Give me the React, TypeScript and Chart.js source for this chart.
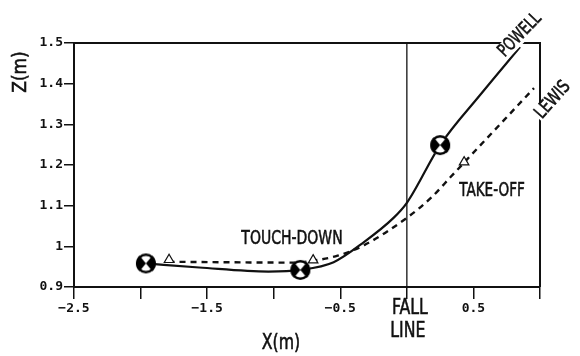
import React, { useEffect, useRef } from "react";
import { Chart, registerables } from "chart.js";
Chart.register(...registerables);

// Powell CG path (solid)
const powellX = [-1.96, -1.56, -1.04, -0.8, -0.55, -0.32, -0.1, 0.0, 0.25, 0.55, 0.85];
const powellZ = [0.958, 0.948, 0.938, 0.942, 0.961, 1.011, 1.07, 1.107, 1.249, 1.372, 1.49];
// Lewis CG path (dashed)
const lewisX = [-1.79, -0.85, -0.72, -0.52, -0.32, 0.0, 0.19, 0.33, 0.955];
const lewisZ = [0.962, 0.96, 0.964, 0.977, 1.003, 1.07, 1.122, 1.171, 1.389];
// event markers
const powellCGX = [-1.96, -0.8, 0.25];
const powellCGZ = [0.958, 0.942, 1.249];
const lewisTriX = [-1.786, -0.704, 0.43];
const lewisTriZ = [0.967, 0.966, 1.207];
// axes
const xTicks = [-2.5, -2, -1.5, -1, -0.5, 0, 0.5, 1];
const xTickLabels = ["\u22122.5", "", "\u22121.5", "", "\u22120.5", "", "0.5", ""];
const zTicks = [0.9, 1.0, 1.1, 1.2, 1.3, 1.4, 1.5];
const zTickLabels = ["0.9", "1", "1.1", "1.2", "1.3", "1.4", "1.5"];

const FONT = "'DejaVu Sans', sans-serif";

function makeCG(r: number) {
  const size = 2 * r + 4;
  const c = document.createElement("canvas");
  c.width = size;
  c.height = size;
  const g = c.getContext("2d")!;
  const cx = size / 2, cy = size / 2;
  g.fillStyle = "#fff";
  g.beginPath();
  g.arc(cx, cy, r, 0, Math.PI * 2);
  g.fill();
  g.fillStyle = "#000";
  const w = (100 / 180) * Math.PI / 2;
  g.beginPath();
  g.moveTo(cx, cy);
  g.arc(cx, cy, r, Math.PI - w, Math.PI + w);
  g.closePath();
  g.fill();
  g.beginPath();
  g.moveTo(cx, cy);
  g.arc(cx, cy, r, -w, w);
  g.closePath();
  g.fill();
  g.lineWidth = 2.4;
  g.strokeStyle = "#000";
  g.beginPath();
  g.arc(cx, cy, r - 1.2, 0, Math.PI * 2);
  g.stroke();
  return c;
}

function drawLabel(
  ctx: CanvasRenderingContext2D,
  text: string,
  x: number,
  y: number,
  size: number,
  sx: number,
  rot = 0,
  bg = false
) {
  ctx.save();
  ctx.translate(x, y);
  ctx.rotate(rot);
  ctx.scale(sx, 1);
  ctx.font = `${size}px ${FONT}`;
  ctx.textAlign = "center";
  ctx.textBaseline = "middle";
  if (bg) {
    const w = ctx.measureText(text).width;
    ctx.fillStyle = "#fff";
    ctx.fillRect(-w / 2 - 2, -size * 0.45, w + 4, size * 0.9);
  }
  ctx.fillStyle = "#111";
  ctx.strokeStyle = "#111";
  ctx.lineWidth = 0.6;
  ctx.fillText(text, 0, 0);
  ctx.strokeText(text, 0, 0);
  ctx.restore();
}

const overlay = {
  id: "overlay",
  beforeDatasetsDraw(chart: any) {
    const { ctx, chartArea } = chart;
    const xs = chart.scales.x;
    ctx.save();
    ctx.strokeStyle = "#111";
    ctx.lineWidth = 2;
    ctx.beginPath();
    ctx.moveTo(chartArea.left, chartArea.top);
    ctx.lineTo(chartArea.right, chartArea.top);
    ctx.lineTo(chartArea.right, chartArea.bottom);
    ctx.stroke();
    const fx = xs.getPixelForValue(0);
    ctx.lineWidth = 1.3;
    ctx.beginPath();
    ctx.moveTo(fx, chartArea.top);
    ctx.lineTo(fx, chartArea.bottom);
    ctx.stroke();
    ctx.restore();
  },
  afterDraw(chart: any) {
    const { ctx } = chart;
    const xs = chart.scales.x;
    const fx = xs.getPixelForValue(0);
    drawLabel(ctx, "Z(m)", 21, 72, 20, 0.85, -Math.PI / 2);
    drawLabel(ctx, "X(m)", 281, 344, 21, 0.75);
    drawLabel(ctx, "FALL", fx + 3, 309, 21, 0.75);
    drawLabel(ctx, "LINE", fx + 1, 332, 21, 0.75);
    drawLabel(ctx, "TOUCH-DOWN", 292, 239, 20, 0.7);
    drawLabel(ctx, "TAKE-OFF", 492, 191, 20, 0.68);
    drawLabel(ctx, "POWELL", 520, 35, 18, 0.72, -0.8, true);
    drawLabel(ctx, "LEWIS", 553, 100, 18, 0.78, -0.85, true);
  },
};

export default function App() {
  const ref = useRef<HTMLCanvasElement | null>(null);
  useEffect(() => {
    document.body.style.margin = "0";
    const cg = makeCG(10);
    const tickFont = { family: "'DejaVu Sans Mono', monospace", size: 13, weight: "bold" as const };
    const chart = new Chart(ref.current!, {
      type: "scatter",
      data: {
        datasets: [
          {
            label: "Powell CG",
            data: powellCGX.map((x, i) => ({ x, y: powellCGZ[i] })),
            pointStyle: cg as any,
            pointRadius: 10,
            showLine: false,
            order: 0,
          },
          {
            label: "Lewis events",
            data: lewisTriX.map((x, i) => ({ x, y: lewisTriZ[i] })),
            pointStyle: "triangle",
            pointRadius: 5.5,
            borderColor: "#111",
            backgroundColor: "#fff",
            borderWidth: 1.2,
            showLine: false,
            order: 0,
          },
          {
            label: "POWELL",
            data: powellX.map((x, i) => ({ x, y: powellZ[i] })),
            showLine: true,
            borderColor: "#111",
            borderWidth: 2.2,
            pointRadius: 0,
            cubicInterpolationMode: "monotone",
            order: 1,
          },
          {
            label: "LEWIS",
            data: lewisX.map((x, i) => ({ x, y: lewisZ[i] })),
            showLine: true,
            borderColor: "#111",
            borderWidth: 2.4,
            borderDash: [6, 5],
            pointRadius: 0,
            cubicInterpolationMode: "monotone",
            order: 1,
          },
        ],
      },
      options: {
        animation: false,
        responsive: false,
        devicePixelRatio: 1,
        layout: { padding: { left: 0, right: 40, top: 43, bottom: 0 } },
        plugins: { legend: { display: false }, tooltip: { enabled: false } },
        scales: {
          x: {
            type: "linear",
            min: -2.5,
            max: 1.0,
            afterBuildTicks: (axis: any) => {
              axis.ticks = xTicks.map((v) => ({ value: v }));
            },
            afterFit: (s: any) => {
              s.height = 69;
            },
            grid: { drawOnChartArea: false, drawTicks: true, tickLength: 12, color: "#111", lineWidth: 1.5 },
            border: { display: true, color: "#111", width: 2 },
            ticks: {
              autoSkip: false,
              maxRotation: 0,
              padding: 2,
              color: "#111",
              font: tickFont,
              callback: (_v: any, i: number) => xTickLabels[i],
            },
          },
          y: {
            type: "linear",
            min: 0.9,
            max: 1.5,
            afterBuildTicks: (axis: any) => {
              axis.ticks = zTicks.map((v) => ({ value: v }));
            },
            afterFit: (s: any) => {
              s.width = 74;
            },
            grid: { drawOnChartArea: false, drawTicks: true, tickLength: 10, color: "#111", lineWidth: 1.5 },
            border: { display: true, color: "#111", width: 2 },
            ticks: {
              autoSkip: false,
              padding: 1,
              color: "#111",
              font: tickFont,
              callback: (_v: any, i: number) => zTickLabels[i],
            },
          },
        },
      },
      plugins: [overlay],
    });
    return () => chart.destroy();
  }, []);
  return (
    <div style={{ width: 580, height: 356, background: "#fff" }}>
      <canvas ref={ref} width={580} height={356} style={{ display: "block" }} />
    </div>
  );
}
